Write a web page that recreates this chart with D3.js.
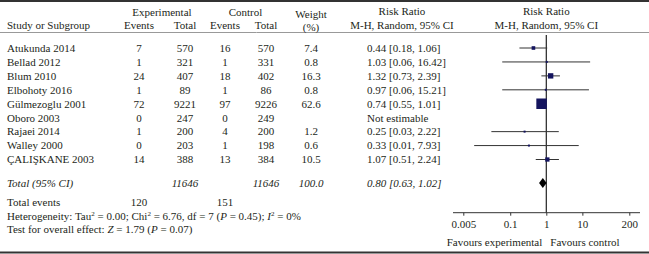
<!DOCTYPE html>
<html><head><meta charset="utf-8">
<script src="https://cdn.jsdelivr.net/npm/d3@7"></script>
<style>
body{margin:0;background:#fff;}
svg{display:block;font-family:"Liberation Serif","Times New Roman",serif;}
</style></head>
<body>
<svg id="chart" width="649" height="254"></svg>
<script>
const studies = ["Atukunda 2014","Bellad 2012","Blum 2010","Elbohoty 2016","Gülmezoglu 2001","Oboro 2003","Rajaei 2014","Walley 2000","ÇALIŞKANE 2003"];
const expEvents = [7,1,24,1,72,0,1,0,14];
const expTotal = [570,321,407,89,9221,247,200,203,388];
const ctlEvents = [16,1,18,1,97,0,4,1,13];
const ctlTotal = [570,331,402,86,9226,249,200,198,384];
const weights = [7.4,0.8,16.3,0.8,62.6,null,1.2,0.6,10.5];
const rr = [0.44,1.03,1.32,0.97,0.74,null,0.25,0.33,1.07];
const lo = [0.18,0.06,0.73,0.06,0.55,null,0.03,0.01,0.51];
const hi = [1.06,16.42,2.39,15.21,1.01,null,2.22,7.93,2.24];
const total = {expTotal:11646, ctlTotal:11646, weight:"100.0", rr:0.80, lo:0.63, hi:1.02, expEvents:120, ctlEvents:151};
const axisTicks = [0.005,0.1,1,10,200];
const axisLabels = ["0.005","0.1","1","10","200"];

const svg = d3.select("#chart");
const txt = "#231f20";
const fs = 11;

const x = d3.scaleLog().domain([0.005,200]).range([463.3,629.3]);
const rowY = d3.scaleLinear().domain([0,8]).range([48,159.5]);

function t(xp, yp, s, anchor, italic){
  return svg.append("text").attr("x",xp).attr("y",yp).attr("dy","0.35em")
    .attr("text-anchor",anchor||"start").attr("font-size",fs).attr("fill",txt)
    .attr("font-style",italic?"italic":null).text(s);
}

// borders
svg.append("line").attr("x1",0).attr("x2",649).attr("y1",1).attr("y2",1).attr("stroke","#333").attr("stroke-width",2);
svg.append("line").attr("x1",0).attr("x2",649).attr("y1",32.5).attr("y2",32.5).attr("stroke","#999").attr("stroke-width",1);
svg.append("line").attr("x1",0).attr("x2",649).attr("y1",252.5).attr("y2",252.5).attr("stroke","#333").attr("stroke-width",2);

// headers
const col = {study:7, ee:139, et:185, ce:225, ct:266, w:311, rrt:367, plot:546.3};
t(col.study,25,"Study or Subgroup");
t((col.ee+col.et)/2,12,"Experimental","middle");
t(col.ee,25,"Events","middle");
t(col.et,25,"Total","middle");
t((col.ce+col.ct)/2,12,"Control","middle");
t(col.ce,25,"Events","middle");
t(col.ct,25,"Total","middle");
t(col.w,14,"Weight","middle");
t(col.w,27,"(%)","middle");
t(402,11,"Risk Ratio","middle");
t(402,25,"M-H, Random, 95% CI","middle");
t(x(1),11,"Risk Ratio","middle");
t(x(1),25,"M-H, Random, 95% CI","middle");

// rows
studies.forEach((s,i)=>{
  const y = rowY(i);
  t(col.study,y,s);
  t(col.ee,y,expEvents[i],"middle");
  t(col.et,y,expTotal[i],"middle");
  t(col.ce,y,ctlEvents[i],"middle");
  t(col.ct,y,ctlTotal[i],"middle");
  if(weights[i]!=null) t(col.w,y,weights[i].toFixed(1),"middle");
  if(rr[i]!=null){
    t(col.rrt,y,`${rr[i].toFixed(2)} [${lo[i].toFixed(2)}, ${hi[i].toFixed(2)}]`);
  } else {
    t(col.rrt,y,"Not estimable");
  }
});

// vertical line at 1
svg.append("line").attr("x1",x(1)).attr("x2",x(1)).attr("y1",35).attr("y2",212.7)
  .attr("stroke","#222").attr("stroke-width",1.2);

// CI lines and squares
studies.forEach((s,i)=>{
  if(rr[i]==null) return;
  const y = rowY(i);
  svg.append("line").attr("x1",x(lo[i])).attr("x2",x(hi[i])).attr("y1",y).attr("y2",y)
    .attr("stroke","#333").attr("stroke-width",1);
  const side = Math.max(2, 10.5*Math.sqrt(weights[i]/62.6));
  svg.append("rect").attr("x",x(rr[i])-side/2).attr("y",y-side/2).attr("width",side).attr("height",side)
    .attr("fill","#14145e");
});

// total row
const ty = 183;
t(col.study,ty,"Total (95% CI)","start",true);
t(col.et,ty,total.expTotal,"middle",true);
t(col.ct,ty,total.ctlTotal,"middle",true);
t(col.w,ty,total.weight,"middle",true);
t(col.rrt,ty,`${total.rr.toFixed(2)} [${total.lo.toFixed(2)}, ${total.hi.toFixed(2)}]`,"start",true);
const dh = 5;
svg.append("path").attr("d",`M${x(total.lo)},${ty} L${x(total.rr)},${ty-dh} L${x(total.hi)},${ty} L${x(total.rr)},${ty+dh} Z`)
  .attr("fill","#000");

// totals and stats
t(col.study,202,"Total events");
t(col.ee,202,total.expEvents,"middle");
t(col.ce,202,total.ctlEvents,"middle");

const het = svg.append("text").attr("x",col.study).attr("y",216).attr("dy","0.35em").attr("font-size",fs).attr("fill",txt);
function part(el, s, opts){
  const ts = el.append("tspan").text(s);
  if(opts&&opts.it) ts.attr("font-style","italic");
  if(opts&&opts.sup) ts.attr("font-size",7).attr("baseline-shift","super");
  return ts;
}
part(het,"Heterogeneity: Tau");part(het,"2",{sup:1});part(het," = 0.00; Chi");part(het,"2",{sup:1});
part(het," = 6.76, df = 7 (");part(het,"P",{it:1});part(het," = 0.45); ");part(het,"I",{it:1});part(het,"2",{sup:1});part(het," = 0%");

const tst = svg.append("text").attr("x",col.study).attr("y",229).attr("dy","0.35em").attr("font-size",fs).attr("fill",txt);
part(tst,"Test for overall effect: ");part(tst,"Z",{it:1});part(tst," = 1.79 (");part(tst,"P",{it:1});part(tst," = 0.07)");

// axis
const axisY = 212.7;
const ax = svg.append("g").attr("transform",`translate(0,${axisY})`)
  .call(d3.axisBottom(x).tickValues(axisTicks).tickFormat((d,i)=>axisLabels[i]).tickSize(3).tickSizeOuter(0));
ax.select(".domain").remove();
ax.selectAll("line").attr("stroke","#333");
ax.selectAll("text").attr("font-size",fs).attr("fill",txt).attr("font-family","Liberation Serif, serif").attr("dy","0.71em").attr("y",8);
svg.append("line").attr("x1",453).attr("x2",640).attr("y1",axisY).attr("y2",axisY).attr("stroke","#333").attr("stroke-width",1);

t(x(1)-4,242,"Favours experimental","end");
t(x(1)+4,242,"Favours control","start");
</script>
</body></html>
